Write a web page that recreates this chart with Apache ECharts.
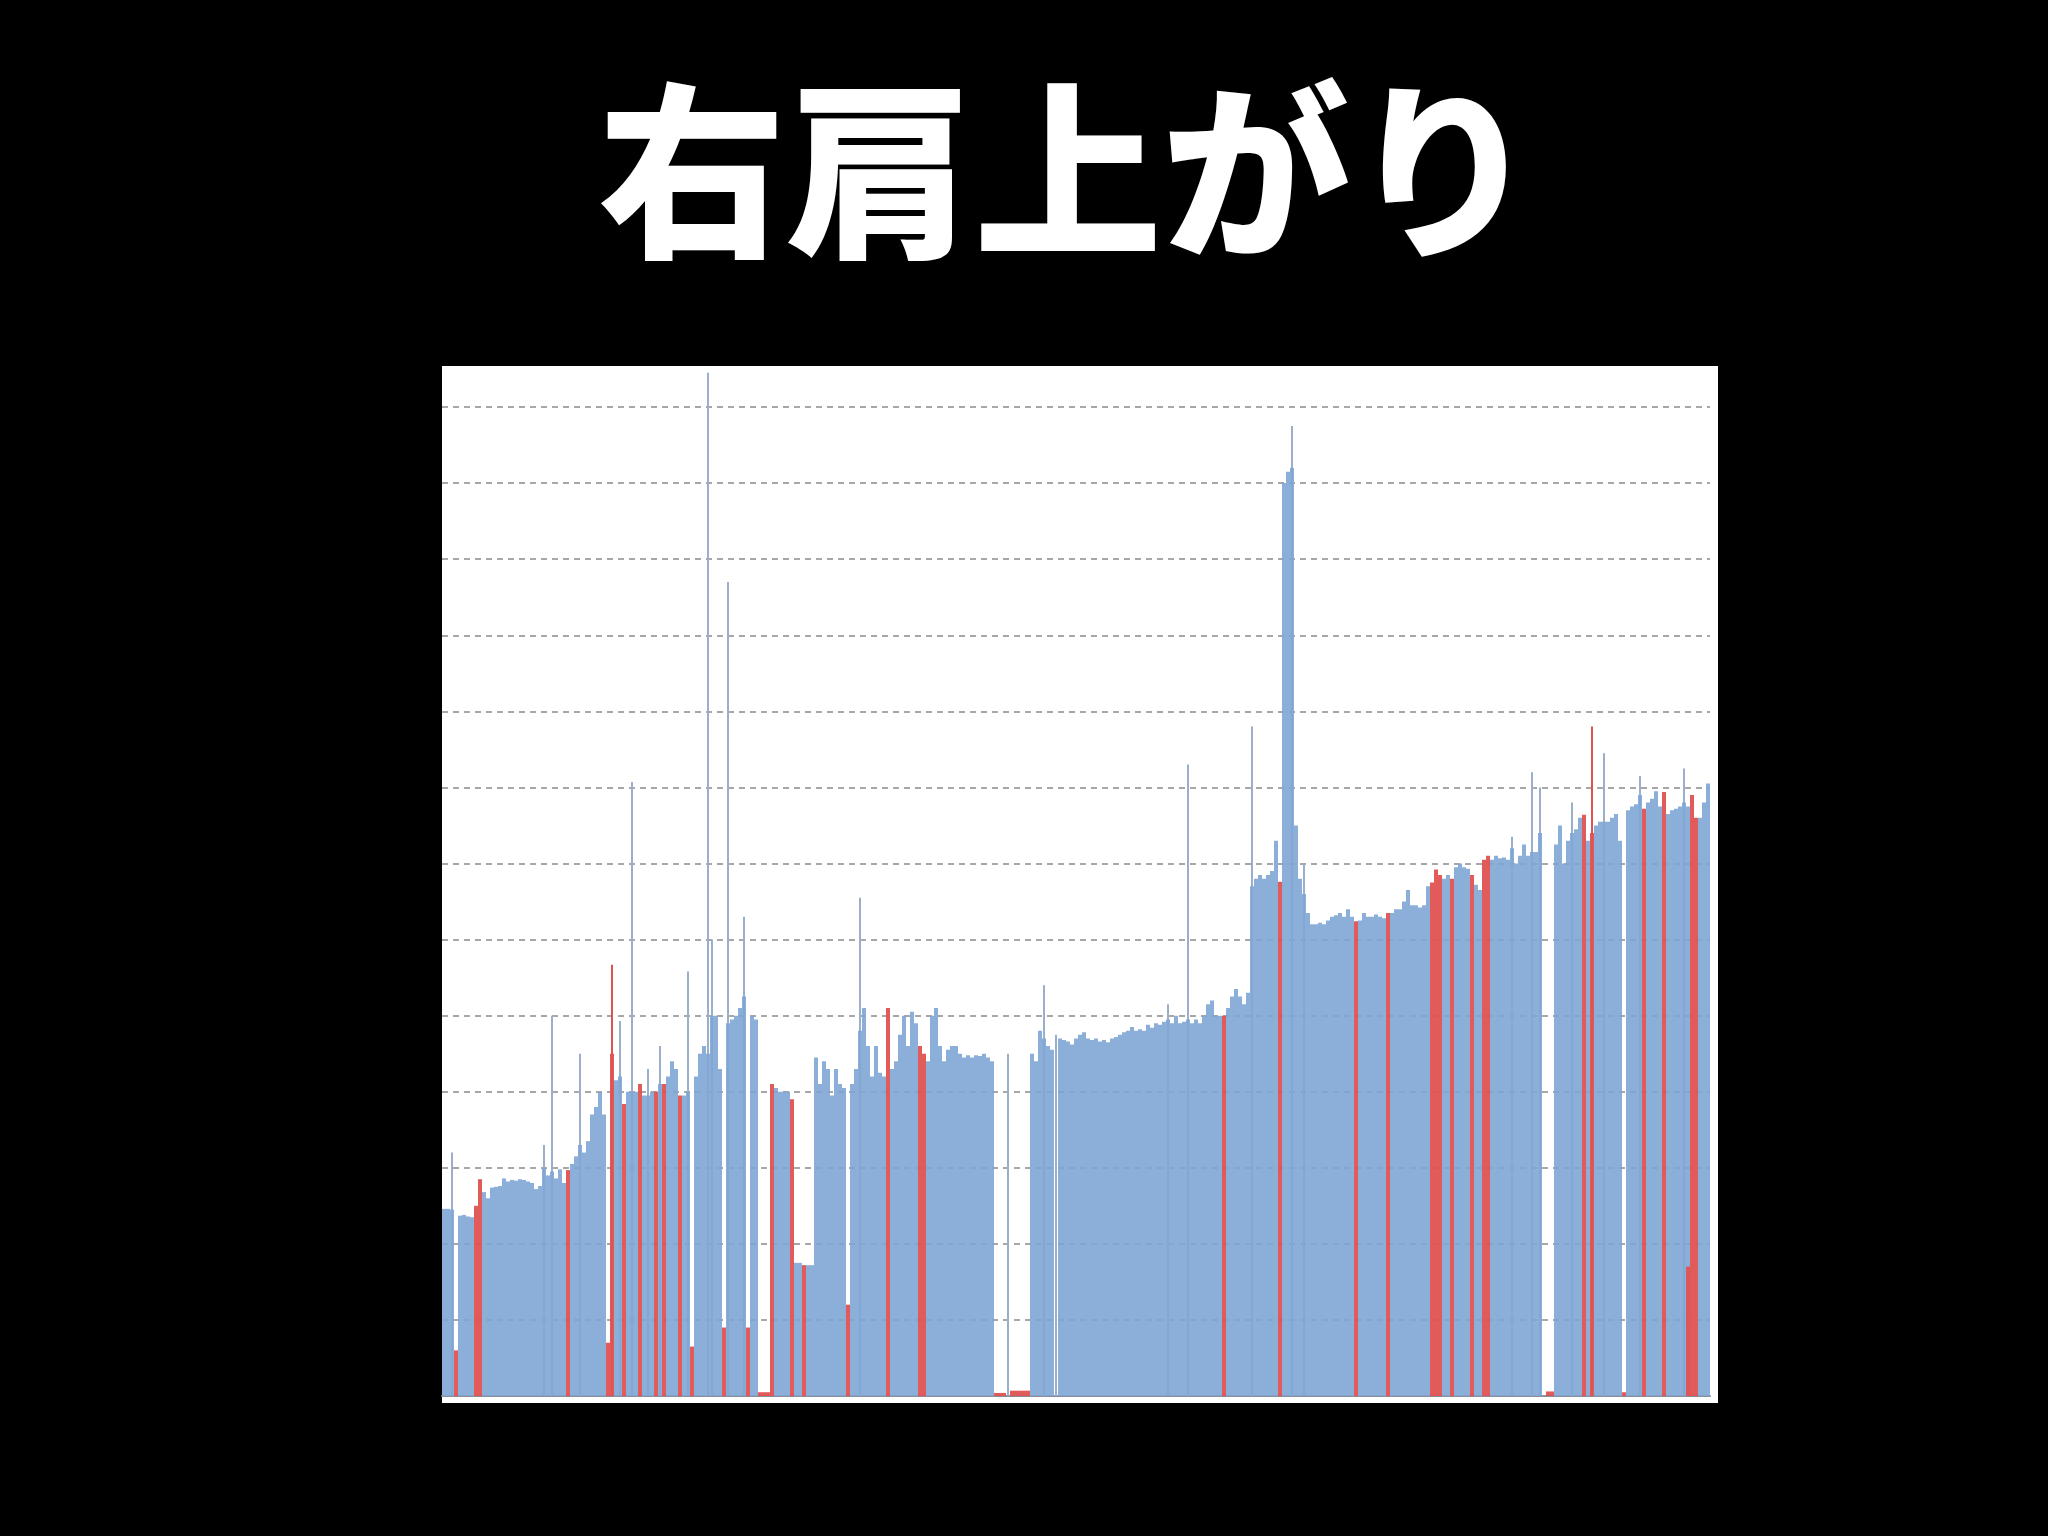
<!DOCTYPE html>
<html><head><meta charset="utf-8">
<script src="https://cdn.jsdelivr.net/npm/echarts@6/dist/echarts.min.js"></script>
<style>html,body{margin:0;padding:0;background:#000;}#c{width:2048px;height:1536px;}</style>
</head><body><div id="c"></div>
<script>
const titleText = '右肩上がり';

// main (blue) series, one value per time slot
const blueValues = [
  2.46, 2.46, 2.45, 0, 2.37, 2.38, 2.36, 2.35, 0, 0,
  2.68, 2.6, 2.74, 2.75, 2.76, 2.86, 2.82, 2.84, 2.83, 2.85,
  2.84, 2.82, 2.8, 2.72, 2.76, 3.0, 2.9, 2.95, 2.86, 2.98,
  2.8, 0, 3.05, 3.15, 3.3, 3.2, 3.35, 3.7, 3.8, 4.0,
  3.7, 0, 0, 4.15, 4.2, 0, 4.0, 4.0, 4.0, 0,
  3.95, 3.95, 4.0, 0, 4.1, 0, 4.2, 4.4, 4.3, 0,
  3.95, 4.0, 0, 4.2, 4.5, 4.6, 4.5, 5.0, 5.0, 4.3,
  0, 4.9, 4.95, 5.0, 5.1, 5.25, 0, 5.0, 4.95, 0,
  0, 0, 0, 4.05, 4.0, 4.0, 4.0, 0, 1.75, 1.75,
  0, 1.72, 1.72, 4.45, 4.1, 4.4, 4.3, 3.95, 4.3, 4.1,
  4.05, 0, 4.1, 4.3, 4.8, 5.1, 4.6, 4.2, 4.6, 4.25,
  4.2, 0, 4.3, 4.4, 4.75, 5.0, 4.6, 5.05, 4.9, 0,
  0, 4.4, 5.0, 5.1, 4.6, 4.4, 4.55, 4.6, 4.6, 4.5,
  4.45, 4.48, 4.45, 4.48, 4.47, 4.5, 4.45, 4.4, 0, 0,
  0, 0, 0, 0, 0, 0, 0, 4.5, 4.4, 4.8,
  4.7, 4.6, 4.55, 0, 4.7, 4.68, 4.66, 4.62, 4.7, 4.75,
  4.78, 4.7, 4.68, 4.7, 4.66, 4.68, 4.65, 4.7, 4.72, 4.75,
  4.78, 4.8, 4.85, 4.8, 4.82, 4.8, 4.88, 4.84, 4.9, 4.88,
  4.92, 4.95, 4.9, 5.0, 4.9, 4.92, 4.95, 4.9, 4.95, 4.9,
  5.0, 5.15, 5.2, 5.0, 5.0, 0, 5.1, 5.25, 5.35, 5.25,
  5.15, 5.3, 6.7, 6.8, 6.85, 6.8, 6.85, 6.9, 7.3, 0,
  12.0, 12.15, 12.2, 7.5, 6.8, 6.6, 6.35, 6.2, 6.2, 6.22,
  6.2, 6.25, 6.3, 6.32, 6.35, 6.3, 6.4, 6.3, 0, 6.25,
  6.35, 6.3, 6.3, 6.33, 6.3, 6.28, 0, 6.35, 6.4, 6.4,
  6.5, 6.65, 6.45, 6.45, 6.42, 6.45, 6.7, 0, 0, 0,
  6.8, 6.85, 0, 6.95, 7.0, 6.95, 6.93, 0, 6.72, 6.65,
  0, 0, 7.05, 7.1, 7.07, 7.08, 7.05, 7.2, 7.0, 7.1,
  7.25, 7.1, 7.15, 7.15, 7.4, 0, 0, 0, 7.25, 7.5,
  7.0, 7.3, 7.4, 7.45, 7.6, 0, 7.3, 0, 7.5, 7.55,
  7.55, 7.55, 7.6, 7.65, 7.3, 0, 7.7, 7.75, 7.78, 7.9,
  0, 7.8, 7.85, 7.95, 7.75, 0, 7.65, 7.7, 7.72, 7.75,
  7.8, 7.75, 0, 0, 7.6, 7.8, 8.05
];

// red slots
const redIndex = [3, 8, 9, 31, 41, 42, 45, 49, 53, 55, 59, 62, 70, 76, 79, 80, 81, 82, 87, 90,
  101, 111, 119, 120, 138, 139, 140, 142, 143, 144, 145, 146, 195, 209, 228, 236, 247, 248, 249, 252,
  257, 260, 261, 276, 277, 285, 287, 295, 300, 305, 311, 312, 313];
const redValues = [0.6, 2.5, 2.85, 2.97, 0.7, 4.5, 3.84, 4.1, 4.0, 4.1, 3.95, 0.65, 0.9, 0.9, 0.05, 0.05, 0.05, 4.1, 3.9, 1.72,
  1.2, 5.1, 4.6, 4.5, 0.04, 0.04, 0.04, 0.07, 0.07, 0.07, 0.07, 0.07, 5.0, 6.76, 6.24, 6.35, 6.75, 6.92, 6.85, 6.8,
  6.85, 7.05, 7.1, 0.06, 0.06, 7.64, 7.4, 0.05, 7.72, 7.94, 1.7, 7.9, 7.6];

// thin peaks
const peakIndex = [2, 25, 27, 34, 44, 47, 51, 54, 61, 66, 67, 71, 75, 104, 141, 150, 153, 181, 186, 202,
  212, 215, 267, 272, 274, 282, 290, 299, 310];
const peakValues = [3.2, 3.3, 5.0, 4.5, 4.93, 8.07, 4.3, 4.6, 5.58, 13.45, 6.0, 10.7, 6.3, 6.55, 4.5, 5.4, 4.75, 5.15, 8.3, 8.8,
  12.75, 7.0, 7.35, 8.2, 8.0, 7.8, 8.45, 8.15, 8.25];
const redPeakIndex = [42, 287];
const redPeakValues = [5.67, 8.8];

const N = blueValues.length;
const categories = blueValues.map((_, i) => String(i + 1));
function spread(idx, vals) {
  const a = new Array(N).fill(null);
  idx.forEach((k, j) => { a[k] = vals[j]; });
  return a;
}

const chart = echarts.init(document.getElementById('c'), null, {renderer: 'canvas'});
const option = {
  backgroundColor: '#000',
  animation: false,
  graphic: [
    {type: 'rect', z: -10, silent: true,
     shape: {x: 442, y: 366, width: 1276, height: 1037},
     style: {fill: '#ffffff'}},
    {type: 'text', z: 10, x: 1068, y: 171,
     style: {text: titleText, fill: '#ffffff', align: 'center', verticalAlign: 'middle',
             font: '900 188px "Noto Sans CJK JP"'}}
  ],
  grid: {left: 442, right: 338, top: 369, bottom: 140, containLabel: false},
  xAxis: [
    {type: 'category', data: categories, boundaryGap: true,
     axisLine: {show: true, lineStyle: {color: '#8a9099', width: 2}},
     axisTick: {show: false}, axisLabel: {show: false}, splitLine: {show: false}},
    {type: 'category', data: categories, show: false, boundaryGap: true}
  ],
  yAxis: {
    type: 'value', min: 0, max: 13.5, interval: 1,
    axisLine: {show: false}, axisTick: {show: false}, axisLabel: {show: false},
    splitLine: {show: true, showMinLine: false, showMaxLine: false,
      lineStyle: {type: [6, 5], color: '#8a8a8a', width: 1.5}}
  },
  series: [
    {name: 'blue', type: 'bar', xAxisIndex: 0, data: blueValues, barWidth: 4, barGap: '-100%',
     z: 2, itemStyle: {color: 'rgb(128,166,214)', opacity: 0.9}},
    {name: 'red', type: 'bar', xAxisIndex: 0, data: spread(redIndex, redValues), barWidth: 4, barGap: '-100%',
     z: 3, itemStyle: {color: '#e05252', opacity: 0.95}},
    {name: 'peaks', type: 'bar', xAxisIndex: 1, data: spread(peakIndex, peakValues), barWidth: 2, barGap: '-100%',
     z: 1, itemStyle: {color: '#9aafca'}},
    {name: 'redPeaks', type: 'bar', xAxisIndex: 1, data: spread(redPeakIndex, redPeakValues), barWidth: 2, barGap: '-100%',
     z: 1, itemStyle: {color: '#e05252'}}
  ]
};
chart.setOption(option);
</script>
</body></html>
